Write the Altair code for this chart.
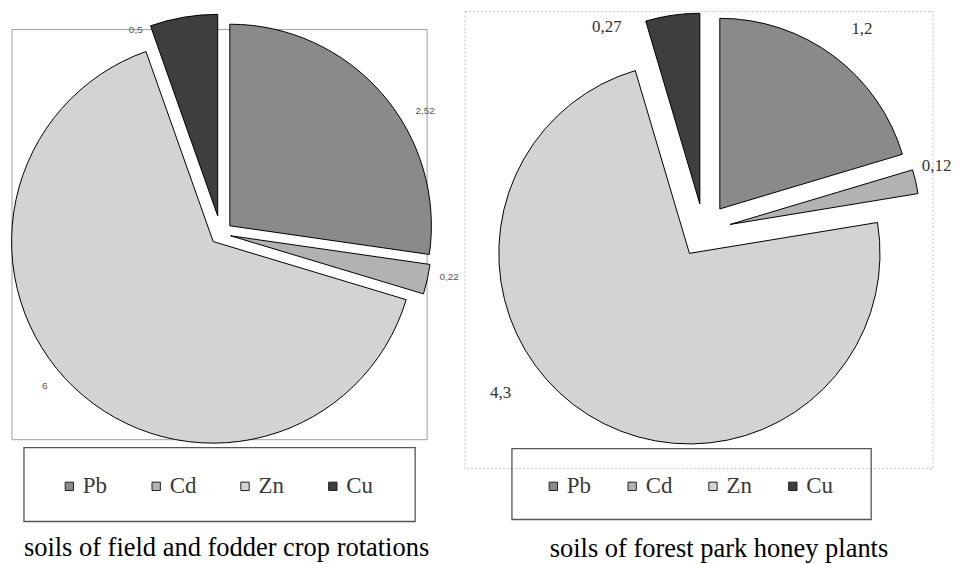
import altair as alt
import pandas as pd
import numpy as np

# ---------------- data ----------------
metals = ["Pb", "Cd", "Zn", "Cu"]
field_values = [2.52, 0.22, 6, 0.5]      # soils of field and fodder crop rotations
forest_values = [1.2, 0.12, 4.3, 0.27]   # soils of forest park honey plants
captions = ["soils of field and fodder crop rotations",
            "soils of forest park honey plants"]

# ---------------- styles ----------------
colors = ["#8a8a8a", "#b2b2b2", "#d3d3d3", "#3e3e3e"]

LEFT = dict(
    W=416, H=458, center=(209.2, 222.5), R=202,
    explode={"Pb": 12, "Cd": 10, "Zn": 11, "Cu": 18},
    nudge={"Pb": 10.5, "Cd": -1.8, "Zn": 5.8, "Cu": -14},
    lrad={"Pb": 227, "Cd": 223, "Zn": 222, "Cu": 204},
    lfont="Liberation Sans", lsize=10, lcolor="#555555",
    legend_xy=(46, 464), colpad=37,
    frame=(0, 416, 18, 429, "#a0a0a0", []),
    box=(12, 404, 437, 511),
    title_offset=13, title_dx=7,
)
RIGHT = dict(
    W=469, H=458, center=(239.2, 219.4), R=191,
    explode={"Pb": 27, "Cd": 27, "Zn": 27, "Cu": 27},
    nudge={"Pb": 1.6, "Cd": -2.7, "Zn": 21.5, "Cu": -19.5},
    lrad={"Pb": 230, "Cd": 215, "Zn": 235, "Cu": 200},
    lfont="Liberation Serif", lsize=17, lcolor="#333333",
    legend_xy=(77, 464), colpad=29,
    frame=(0, 469, 0, 458, "#c4c4c4", [2, 2]),
    box=(47, 407, 438, 509),
    title_offset=16, title_dx=20,
)


def fmt(v):
    s = ("%g" % v)
    return s.replace(".", ",")


def panel(values, caption, st):
    df = pd.DataFrame({"metal": metals, "value": values, "order": list(range(len(metals)))})
    total = df["value"].sum()
    cum = df["value"].cumsum()
    mid = (cum - df["value"] / 2) / total * 2 * np.pi
    ex = df["metal"].map(st["explode"])
    df["cx"] = ex * np.sin(mid)
    df["cy"] = ex * np.cos(mid)
    lang = mid + np.deg2rad(df["metal"].map(st["nudge"]))
    lr = df["metal"].map(st["lrad"])
    df["lx"] = df["cx"] + lr * np.sin(lang)
    df["ly"] = df["cy"] + lr * np.cos(lang)
    df["label"] = [fmt(v) for v in values]

    W, H = st["W"], st["H"]
    cx0, cy0 = st["center"]
    xs = alt.Scale(domain=[-cx0, W - cx0], nice=False, zero=False)
    ys = alt.Scale(domain=[-(H - cy0), cy0], nice=False, zero=False)

    base = alt.Chart(df)
    arcs = base.mark_arc(outerRadius=st["R"], stroke="black", strokeWidth=1).encode(
        theta=alt.Theta("value:Q", stack=True),
        order=alt.Order("order:Q"),
        x=alt.X("cx:Q", scale=xs, axis=None),
        y=alt.Y("cy:Q", scale=ys, axis=None),
        color=alt.Color(
            "metal:N",
            scale=alt.Scale(domain=metals, range=colors),
            legend=alt.Legend(
                orient="none", legendX=st["legend_xy"][0], legendY=st["legend_xy"][1],
                direction="horizontal", title=None, symbolType="square",
                symbolSize=70, symbolStrokeColor="#222222", symbolStrokeWidth=1,
                labelFont="Liberation Serif", labelFontSize=23, labelColor="#3a3a3a",
                labelOffset=2, columnPadding=st["colpad"],
            ),
        ),
    )
    labels = base.mark_text(font=st["lfont"], fontSize=st["lsize"], color=st["lcolor"]).encode(
        x=alt.X("lx:Q", scale=xs, axis=None),
        y=alt.Y("ly:Q", scale=ys, axis=None),
        text="label:N",
    )
    one = pd.DataFrame({"k": [0]})
    fx0, fx1, fy0, fy1, fcol, fdash = st["frame"]
    frame_kw = dict(fill="transparent", stroke=fcol, strokeWidth=1)
    if fdash:
        frame_kw["strokeDash"] = fdash
    frame = alt.Chart(one).mark_rect(**frame_kw).encode(
        x=alt.value(fx0), x2=alt.value(fx1), y=alt.value(fy0), y2=alt.value(fy1)
    )
    bx0, bx1, by0, by1 = st["box"]
    box = alt.Chart(one).mark_rect(fill="transparent", stroke="#555555", strokeWidth=1.3).encode(
        x=alt.value(bx0), x2=alt.value(bx1), y=alt.value(by0), y2=alt.value(by1)
    )
    return alt.layer(frame, box, arcs, labels).properties(
        width=W, height=H,
        title=alt.TitleParams(
            caption, orient="bottom", font="Liberation Serif", fontSize=26.5,
            fontWeight="normal", color="black", offset=st["title_offset"], dx=st["title_dx"],
        ),
    )


chart = alt.hconcat(
    panel(field_values, captions[0], LEFT),
    panel(forest_values, captions[1], RIGHT),
    spacing=38, bounds="flush",
).resolve_scale(
    x="independent", y="independent", color="independent"
).resolve_legend(color="independent").properties(
    padding={"left": 1, "top": 2, "right": 0, "bottom": 0},
    background="white",
).configure_view(strokeWidth=0)

chart.save("out.html", embed_options={"renderer": "svg", "actions": False})
